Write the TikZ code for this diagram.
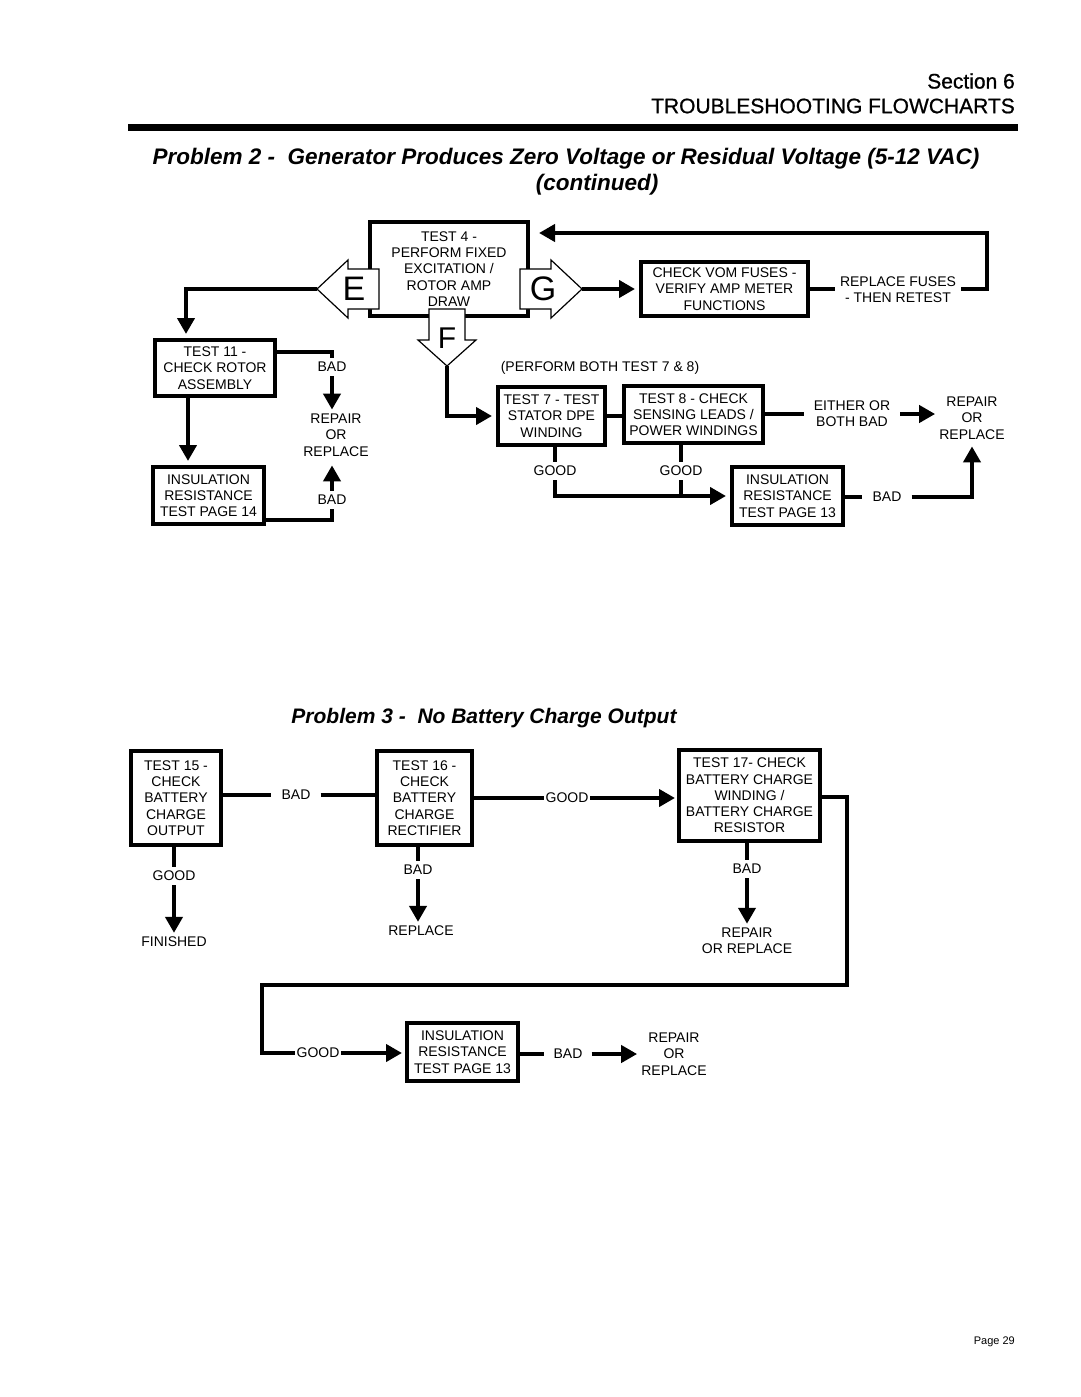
\documentclass[tikz,border=0pt]{standalone}
\usepackage{fontspec}
\setmainfont{Liberation Sans}
\newfontfamily\hdrfamily[FakeBold=0.8]{Liberation Sans}
\usetikzlibrary{arrows.meta,calc}
\begin{document}
\begin{tikzpicture}[x=1pt,y=-1pt,
  ln/.style={line width=4pt},
  arr/.style={line width=4pt,-{Triangle[length=16pt,width=17pt]}},
  box/.style={draw,line width=4pt,fill=white,align=center,inner sep=0pt,font=\fontsize{14}{16.3}\selectfont},
  lbl/.style={align=center,inner sep=4pt,font=\fontsize{14}{16.3}\selectfont},
  blk/.style={draw,line width=1.2pt,fill=white,line join=miter},
  big/.style={inner sep=0pt,font=\fontsize{34}{34}\selectfont},
  hdr/.style={anchor=east,inner sep=0pt,font=\hdrfamily\fontsize{21}{21}\selectfont},
  ttl/.style={inner sep=0pt,font=\fontsize{22.5}{22.5}\selectfont\bfseries\itshape}]
\useasboundingbox (0,0) rectangle (1080,1397);

% ---------- header ----------
\node[hdr] (sec) at (1015,81) {Section 6};
\node[hdr] (tf) at (1015,106) {TROUBLESHOOTING FLOWCHARTS};
\fill (128,124) rectangle (1018,131);
\node[ttl] (p2a) at (566,159) {Problem 2 -\ \ Generator Produces Zero Voltage or Residual Voltage (5-12 VAC)};
\node[ttl] (p2b) at (597,185) {(continued)};

% ---------- problem 2 boxes ----------
\node[box,minimum width=158pt,minimum height=94pt] (t4) at (449,269) {TEST 4 -\\PERFORM FIXED\\EXCITATION /\\ROTOR AMP\\DRAW};
\node[box,minimum width=167pt,minimum height=54pt] (vom) at (724.5,289) {CHECK VOM FUSES -\\VERIFY AMP METER\\FUNCTIONS};
\node[box,minimum width=120pt,minimum height=56pt] (t11) at (215,368) {TEST 11 -\\CHECK ROTOR\\ASSEMBLY};
\node[box,minimum width=111pt,minimum height=57pt] (ins14) at (208.5,495.5) {INSULATION\\RESISTANCE\\TEST PAGE 14};
\node[box,minimum width=107pt,minimum height=58pt] (t7) at (551.5,416) {TEST 7 - TEST\\STATOR DPE\\WINDING};
\node[box,minimum width=139pt,minimum height=57pt] (t8) at (693.5,414.5) {TEST 8 - CHECK\\SENSING LEADS /\\POWER WINDINGS};
\node[box,minimum width=111pt,minimum height=58pt] (ins13a) at (787.5,496) {INSULATION\\RESISTANCE\\TEST PAGE 13};

% ---------- block arrows E, G, F ----------
\draw[blk] (317,289) -- (348,260) -- (348,269) -- (379,269) -- (379,309) -- (348,309) -- (348,318) -- cycle;
\node[big] (Elbl) at (354,289) {E};
\draw[blk] (520,269) -- (551,269) -- (551,260) -- (582,289) -- (551,318) -- (551,309) -- (520,309) -- cycle;
\node[big] (Glbl) at (543,289) {G};
\draw[blk] (429,309) -- (465,309) -- (465,340) -- (476,340) -- (447,366) -- (418,340) -- (429,340) -- cycle;
\node[inner sep=0pt,font=\fontsize{30}{30}\selectfont] (Flbl) at (447,338) {F};
\coordinate (Etip) at (317,289);
\coordinate (Gtip) at (582,289);
\coordinate (Ftip) at (447,366);

% ---------- problem 2 labels ----------
\node[lbl,inner xsep=5pt] (rf) at (898,290) {REPLACE FUSES\\- THEN RETEST};
\node[lbl] (bad1) at (332,367) {BAD};
\node[lbl] (rep1) at (336,435) {REPAIR\\OR\\REPLACE};
\node[lbl] (bad2) at (332,500) {BAD};
\node[lbl] (pb) at (600,368) {(PERFORM BOTH TEST 7 \& 8)};
\node[lbl,inner xsep=10pt] (eo) at (852,414) {EITHER OR\\BOTH BAD};
\node[lbl] (rep2) at (972,418) {REPAIR\\OR\\REPLACE};
\node[lbl] (g7) at (555,471) {GOOD};
\node[lbl] (g8) at (681,471) {GOOD};
\node[lbl,inner xsep=10pt] (bad3) at (887,497) {BAD};
\coordinate (rc) at (987,233);

% ---------- problem 2 connectors ----------
\draw[arr,shorten >=4pt] (Gtip) -- (vom.west);
\draw[ln] (vom.east) -- (vom.east -| rf.west);
\draw[arr,shorten >=9pt] (rf.east |- vom.east) -| (rc) -- (t4.east |- rc);
\draw[arr,shorten >=4pt] (Etip) -| ([xshift=-29pt]t11.north);
\draw[arr,shorten >=4pt] ([xshift=-27pt]t11.south) -- ([xshift=-27pt]t11.south |- ins14.north);
\draw[ln] ([yshift=16pt]t11.east) -| (bad1.north);
\draw[arr] (bad1.south) -- (bad1.south |- rep1.north);
\draw[arr,shorten >=5pt] (bad2.north) -- (bad2.north |- rep1.south);
\draw[ln] (bad2.south) |- ([yshift=-24pt]ins14.east);
\draw[arr,shorten >=4pt] (Ftip) |- (t7.west);
\draw[ln] (t7.east) -- (t7.east -| t8.west);
\draw[ln] (t8.east |- eo.west) -- (eo.west);
\draw[arr] (eo.east) -- (eo.east -| rep2.west);
\draw[ln] (t7.south -| g7.north) -- (g7.north);
\draw[ln] (t8.south -| g8.north) -- (g8.north);
\draw[arr,shorten >=4pt] (g7.south) |- (ins13a.west);
\draw[ln] (g8.south) -- (g8.south |- ins13a.west);
\draw[ln] (ins13a.east |- bad3.west) -- (bad3.west);
\draw[arr,shorten >=3pt] (bad3.east) -| (rep2.south);

% ---------- problem 3 ----------
\node[ttl,font=\fontsize{21}{21}\selectfont\bfseries\itshape] (p3) at (484,718) {Problem 3 -\ \ No Battery Charge Output};
\node[box,minimum width=90pt,minimum height=94pt] (t15) at (176,798) {TEST 15 -\\CHECK\\BATTERY\\CHARGE\\OUTPUT};
\node[box,minimum width=95pt,minimum height=94pt] (t16) at (424.5,798) {TEST 16 -\\CHECK\\BATTERY\\CHARGE\\RECTIFIER};
\node[box,minimum width=141pt,minimum height=91pt] (t17) at (749.5,795.5) {TEST 17- CHECK\\BATTERY CHARGE\\WINDING /\\BATTERY CHARGE\\RESISTOR};
\node[box,minimum width=111pt,minimum height=58pt] (ins13b) at (462.5,1052) {INSULATION\\RESISTANCE\\TEST PAGE 13};

\node[lbl,inner xsep=10pt] (bad4) at (296,795) {BAD};
\node[lbl,inner xsep=1.5pt] (g16) at (567,798) {GOOD};
\node[lbl] (g15) at (174,876) {GOOD};
\node[lbl] (fin) at (174,942) {FINISHED};
\node[lbl] (bad5) at (418,870) {BAD};
\node[lbl] (rp5) at (421,931) {REPLACE};
\node[lbl] (bad6) at (747,869) {BAD};
\node[lbl] (rp6) at (747,941) {REPAIR\\OR REPLACE};
\node[lbl,inner xsep=1.5pt] (g9) at (318,1053) {GOOD};
\node[lbl,inner xsep=9pt] (bad7) at (568,1054) {BAD};
\node[lbl] (rp7) at (674,1054) {REPAIR\\OR\\REPLACE};
\coordinate (c2) at (847,985);
\coordinate (c3) at (262,985);

\draw[ln] (t15.east |- bad4.west) -- (bad4.west);
\draw[ln] (bad4.east) -- (bad4.east -| t16.west);
\draw[ln] (t16.east |- g16.west) -- (g16.west);
\draw[arr,shorten >=2pt] (g16.east) -- (g16.east -| t17.west);
\draw[ln] (t15.south -| g15.north) -- (g15.north);
\draw[arr] (g15.south) -- (fin.north);
\draw[ln] (t16.south -| bad5.north) -- (bad5.north);
\draw[arr] (bad5.south) -- (bad5.south |- rp5.north);
\draw[ln] (t17.south -| bad6.north) -- (bad6.north);
\draw[arr] (bad6.south) -- (bad6.south |- rp6.north);
\draw[ln] ([yshift=-1.5pt]t17.east) -| (c2) -- (c3) |- (g9.west);
\draw[arr,shorten >=3pt] (g9.east) -- (g9.east -| ins13b.west);
\draw[ln] (ins13b.east |- bad7.west) -- (bad7.west);
\draw[arr] (bad7.east) -- (bad7.east -| rp7.west);

\node[anchor=east,inner sep=0pt,font=\fontsize{11}{11}\selectfont] (pg) at (1015,1342) {Page 29};
\end{tikzpicture}
\end{document}
